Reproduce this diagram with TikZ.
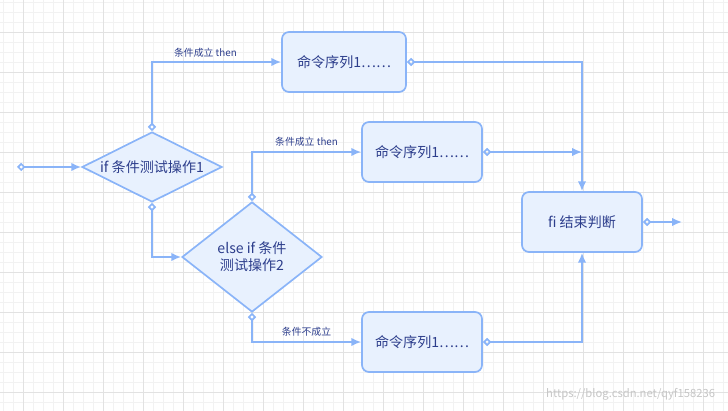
\documentclass[tikz,border=0pt]{standalone}
\usepackage{fontspec}
\setmainfont{Noto Sans CJK SC}
\usetikzlibrary{shapes.geometric, arrows.meta, positioning}
\definecolor{flowline}{RGB}{138, 180, 248}
\definecolor{flowfill}{RGB}{232, 241, 254}
\definecolor{flowtext}{RGB}{45, 62, 140}
\definecolor{gridminor}{RGB}{242, 242, 242}
\definecolor{gridmajor}{RGB}{226, 226, 226}
\tikzset{
  cmdbox/.style={draw=flowline, fill=flowfill, line width=1.2pt, rounded corners=5pt,
    minimum width=3cm, minimum height=1.5cm, text=flowtext, font=\fontsize{10}{12}\selectfont},
  test/.style={diamond, draw=flowline, fill=flowfill, line width=1.2pt, aspect=2,
    inner sep=0pt, text=flowtext, font=\fontsize{10}{12}\selectfont, align=center},
  flow/.style={draw=flowline, line width=1.2pt, {Diamond[open,length=6pt,width=6pt]}-{Latex[length=7pt,width=6pt]}},
  tag/.style={text=flowtext, font=\fontsize{7}{8}\selectfont}
}
\begin{document}
\begin{tikzpicture}[x=0.025cm, y=-0.025cm]
  \useasboundingbox (0,0) rectangle (728,411);
  % grid
  \foreach \x in {3,13,...,728} \draw[gridminor] (\x,0) -- (\x,411);
  \foreach \y in {2,12,...,411} \draw[gridminor] (0,\y) -- (728,\y);
  \foreach \x in {23,63,...,728} \draw[gridmajor] (\x,0) -- (\x,411);
  \foreach \y in {32,72,...,411} \draw[gridmajor] (0,\y) -- (728,\y);

  \node[test, minimum width=3.5cm, minimum height=1.75cm] (if1) at (152,167) {if 条件测试操作1};
  \node[test, minimum width=3.5cm, minimum height=2.75cm, aspect=1.27] (if2) at (252,257) {else if 条件\\测试操作2};
  \node[cmdbox, minimum width=3.1cm] (seq1) at (344,62) {命令序列1……};
  \node[cmdbox] (seq2) at (422,152) {命令序列1……};
  \node[cmdbox] (seq3) at (422,342) {命令序列1……};
  \node[cmdbox] (done) at (582,222) {fi 结束判断};
  \coordinate (in) at (17,167);
  \coordinate (out) at (682,222);
  \coordinate (join) at (582,152);

  \draw[flow] (in) -- (if1.west);
  \draw[flow] (if1.north) -- ++(0,-68) node[tag, above, pos=1, xshift=38] {条件成立 then} |- (seq1.west);
  \draw[flow] (if1.south) |- (if2.west);
  \draw[flow] (if2.north) |- (seq2.west) node[tag, above, pos=0.75] {条件成立 then};
  \draw[flow] (if2.south) |- (seq3.west) node[tag, above, pos=0.75] {条件不成立};
  \draw[flow] (seq1.east) -| (done.north);
  \draw[flow] (seq2.east) -- (join);
  \draw[flow] (seq3.east) -| (done.south);
  \draw[flow] (done.east) -- (out);

  \node[text=gray!45, font=\fontsize{8}{9}\selectfont, anchor=south east] at (720,405) {https://blog.csdn.net/qyf158236};
\end{tikzpicture}
\end{document}
